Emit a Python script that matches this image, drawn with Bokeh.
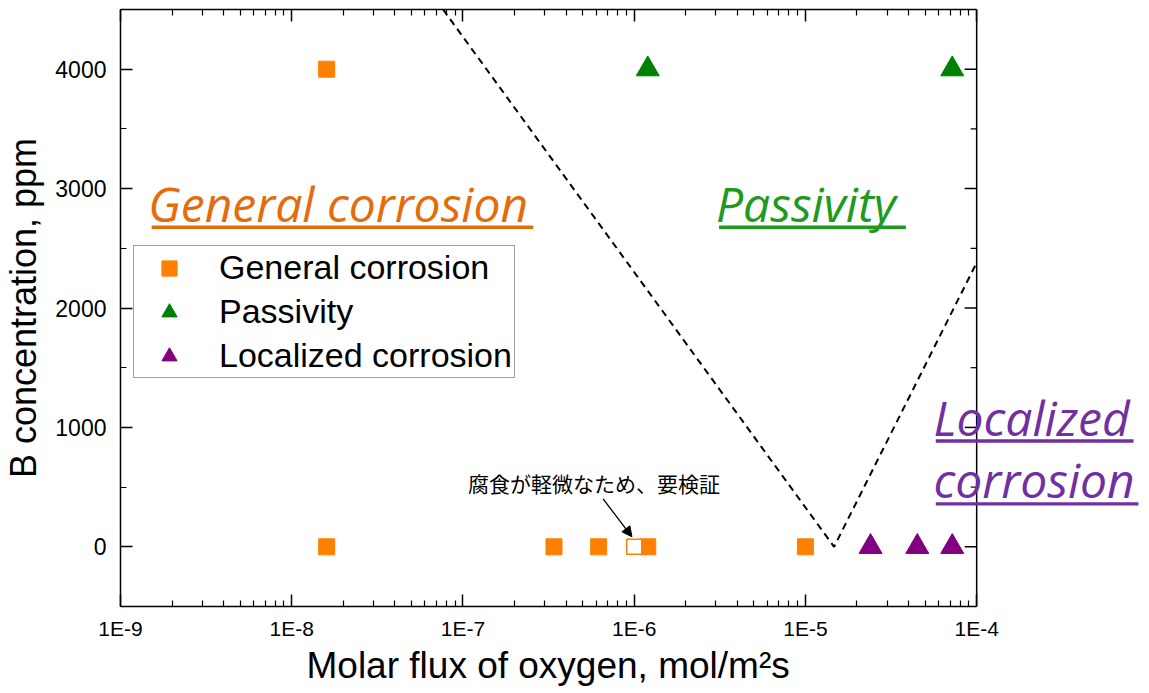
from bokeh.plotting import figure
from bokeh.models import (Range1d, LogAxis, FixedTicker, CustomJSTickFormatter, Span, Title,
                          Label, BoxAnnotation, Arrow, NormalHead, Legend, LegendItem)
from bokeh.embed import file_html
from bokeh.resources import INLINE

# ---- data ----
gen_x = [1.6e-8, 1.6e-8, 3.4e-7, 6.2e-7, 1.2e-6, 1.0e-5]
gen_y = [4000, 0, 0, 0, 0, 0]
pass_x = [1.2e-6, 7.2e-5]
pass_y = [4000, 4000]
loc_x = [2.4e-5, 4.5e-5, 7.2e-5]
loc_y = [0, 0, 0]
unverified_x = [1.0e-6]
unverified_y = [0]
boundary_x = [7.65e-8, 1.47e-5, 1.0e-4]
boundary_y = [4500, 0, 2380]

x_ticks = [1e-9, 1e-8, 1e-7, 1e-6, 1e-5, 1e-4]
x_tick_labels = ["1E-9", "1E-8", "1E-7", "1E-6", "1E-5", "1E-4"]
y_ticks = [0, 1000, 2000, 3000, 4000]
y_tick_labels = ["0", "1000", "2000", "3000", "4000"]

series_names = ["General corrosion", "Passivity", "Localized corrosion"]
x_title = "Molar flux of oxygen, mol/m²s"
y_title = "B concentration, ppm"
note_text = "腐食が軽微なため、要検証"

ORANGE = "#FF8000"
GREEN = "#008000"
PURPLE = "#800080"
T_ORANGE = "#E46C0A"
T_GREEN = "#1E9A1E"
T_PURPLE = "#7030A0"
AX_FONT = "Liberation Sans"
BIG_FONT = "Open Sans"

# plot box: x 1e-9..1e-4 (857 px), y -500..4500 ; frame extends to the page's right edge
X_MIN, X_MAX = 1e-9, 1e-4
Y_MIN, Y_MAX = -500, 4500
BOX_L, BOX_R, W = 119, 976, 1149
decades = 5 * (W - BOX_L) / (BOX_R - BOX_L)
px_per_dec = (BOX_R - BOX_L) / 5.0
x_end = 10 ** (-9 + decades)

p = figure(width=W, height=693, x_axis_type="log",
           x_range=Range1d(X_MIN, x_end), y_range=Range1d(Y_MIN, Y_MAX),
           output_backend="svg", toolbar_location=None,
           min_border_left=BOX_L, min_border_right=0, min_border_top=9, min_border_bottom=87)
p.grid.visible = False
p.outline_line_color = None
p.background_fill_color = "white"
p.border_fill_color = "white"

minor_x = [k * 10.0 ** e for e in range(-9, -4) for k in range(2, 10)]
minor_y = [-500, 500, 1500, 2500, 3500, 4500]

fmt_x = CustomJSTickFormatter(args=dict(tvals=x_ticks, tlabels=x_tick_labels), code="""
const i = tvals.findIndex(t => Math.abs(Math.log10(t) - Math.log10(tick)) < 1e-6);
return i >= 0 ? tlabels[i] : '';
""")
fmt_y = CustomJSTickFormatter(args=dict(tvals=y_ticks, tlabels=y_tick_labels), code="""
const i = tvals.findIndex(t => Math.abs(t - tick) < 1e-6);
return i >= 0 ? tlabels[i] : '';
""")

MAJ, MIN_T = 12, 6

def style_axis(ax, show_labels):
    ax.axis_line_width = 1.5
    ax.axis_line_color = "black"
    ax.major_tick_in = MAJ
    ax.major_tick_out = 0
    ax.minor_tick_in = MIN_T
    ax.minor_tick_out = 0
    ax.major_tick_line_width = 1.5
    ax.minor_tick_line_width = 1.2
    ax.major_label_text_color = "black"
    ax.axis_label_text_color = "black"
    if not show_labels:
        ax.major_label_text_color = None
        ax.major_label_text_font_size = "2px"
        ax.major_label_standoff = 0

xa = p.xaxis[0]
xa.ticker = FixedTicker(ticks=x_ticks, minor_ticks=minor_x)
xa.formatter = fmt_x
xa.bounds = (X_MIN, X_MAX)
style_axis(xa, True)
xa.major_label_text_font = AX_FONT
xa.major_label_text_font_size = "21px"
xa.major_label_standoff = 10

# x-axis title centred on the plot box (the frame itself is wider)
p.add_layout(Title(text=x_title, align="left", offset=186, text_font=AX_FONT,
                   text_font_size="37px", text_font_style="normal", text_color="black",
                   standoff=0), "below")

ya = p.yaxis[0]
ya.ticker = FixedTicker(ticks=y_ticks, minor_ticks=minor_y)
ya.formatter = fmt_y
style_axis(ya, True)
ya.major_label_text_font = AX_FONT
ya.major_label_text_font_size = "23px"
ya.major_label_standoff = 14
ya.axis_label = y_title
ya.axis_label_text_font = AX_FONT
ya.axis_label_text_font_size = "36px"
ya.axis_label_text_font_style = "normal"
ya.axis_label_standoff = 8

top_ax = LogAxis(ticker=FixedTicker(ticks=x_ticks, minor_ticks=minor_x), formatter=fmt_x,
                 bounds=(X_MIN, X_MAX))
style_axis(top_ax, False)
p.add_layout(top_ax, "above")

# right edge of the plot box with inward ticks
p.add_layout(Span(location=X_MAX, dimension="height", line_color="black", line_width=1.5))
xr_maj = 10 ** (-4 - MAJ / px_per_dec)
xr_min = 10 ** (-4 - MIN_T / px_per_dec)
p.segment(x0=[xr_maj] * len(y_ticks), y0=y_ticks, x1=[X_MAX] * len(y_ticks), y1=y_ticks,
          line_color="black", line_width=1.5)
p.segment(x0=[xr_min] * len(minor_y), y0=minor_y, x1=[X_MAX] * len(minor_y), y1=minor_y,
          line_color="black", line_width=1.2)

# boundary
p.line(boundary_x, boundary_y, line_color="black", line_width=2, line_dash="7 5")

# data
r_gen = p.scatter(gen_x, gen_y, marker="square", size=16, fill_color=ORANGE, line_color=ORANGE)
r_unv = p.scatter(unverified_x, unverified_y, marker="square", size=15, fill_color="white",
                  line_color=ORANGE, line_width=1.5)
r_pass = p.scatter(pass_x, pass_y, marker="triangle", size=23, fill_color=GREEN, line_color=GREEN)
r_loc = p.scatter(loc_x, loc_y, marker="triangle", size=23, fill_color=PURPLE, line_color=PURPLE)

legend = Legend(items=[LegendItem(label=series_names[0], renderers=[r_gen]),
                       LegendItem(label=series_names[1], renderers=[r_pass]),
                       LegendItem(label=series_names[2], renderers=[r_loc])],
                location=(13, 228))
legend.label_text_font = AX_FONT
legend.label_text_font_size = "34px"
legend.label_text_color = "black"
legend.glyph_width = 66
legend.glyph_height = 38
legend.label_height = 38
legend.label_standoff = 17
legend.spacing = 5
legend.padding = 2
legend.margin = 0
legend.border_line_color = "#404040"
legend.border_line_width = 1
legend.background_fill_alpha = 1
p.add_layout(legend, "center")

# region labels
def big_label(x, y, text, color):
    p.add_layout(Label(x=x, y=y, text=text, text_color=color, text_font=BIG_FONT,
                       text_font_size="48px", text_font_style="italic",
                       text_align="left", text_baseline="middle"))

def underline(x0, x1, y0, y1, color):
    p.add_layout(BoxAnnotation(left=x0, right=x1, bottom=y0, top=y1, fill_color=color,
                               fill_alpha=1, line_color=None))

big_label(1.45e-9, 2879, "General corrosion", T_ORANGE)
underline(1.52e-9, 2.57e-7, 2662, 2690, T_ORANGE)
big_label(3.0e-6, 2879, "Passivity", T_GREEN)
underline(3.13e-6, 3.86e-5, 2662, 2690, T_GREEN)
big_label(5.6e-5, 1079, "Localized", T_PURPLE)
underline(5.77e-5, 8.24e-4, 872, 900, T_PURPLE)
big_label(5.6e-5, 561, "corrosion", T_PURPLE)
underline(5.77e-5, 8.8e-4, 345, 373, T_PURPLE)

# note and arrow
p.add_layout(Label(x=5.83e-7, y=536, text=note_text, text_font="Noto Sans CJK JP",
                   text_font_size="21px", text_align="center", text_baseline="middle",
                   text_color="black"))
p.add_layout(Arrow(x_start=6.58e-7, y_start=402, x_end=9.7e-7, y_end=84,
                   line_width=1.3, line_color="black",
                   end=NormalHead(size=10, fill_color="black", line_color="black")))

open("out.html", "w").write(file_html(p, INLINE))
